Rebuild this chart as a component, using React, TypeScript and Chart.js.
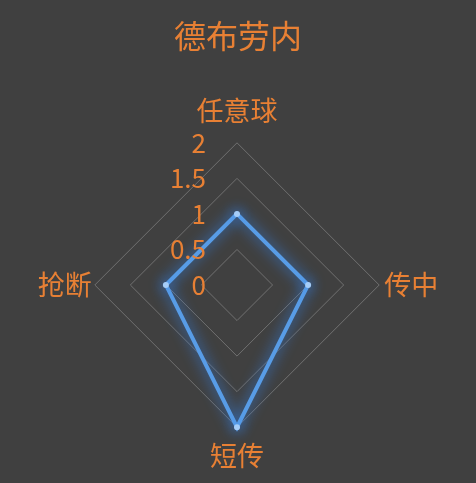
import { useEffect, useRef } from "react"
import { Chart, registerables } from "chart.js"

Chart.register(...registerables)

// dados do radar
const labels = ["任意球", "传中", "短传", "抢断"]
const values = [1, 1, 2, 1]
const tickValues = [0, 0.5, 1, 1.5, 2]
const labelPadding = [16, 5, 12, 3]

const ORANGE = "rgb(232, 128, 52)"
const FONT = "'Noto Sans CJK SC', 'Noto Sans', sans-serif"

// desenha os ticks à esquerda do eixo vertical
const tickPlugin = {
  id: "leftTicks",
  afterDraw(chart: any) {
    const scale = chart.scales.r
    const ctx = chart.ctx
    ctx.save()
    ctx.fillStyle = ORANGE
    ctx.font = `26px ${FONT}`
    ctx.textAlign = "right"
    ctx.textBaseline = "middle"
    tickValues.forEach((v) => {
      const d = scale.getDistanceFromCenterForValue(v)
      ctx.fillText(String(v), scale.xCenter - 31, scale.yCenter - d)
    })
    ctx.restore()
  },
}

// brilho da linha
const glowPlugin = {
  id: "glow",
  beforeDatasetsDraw(chart: any) {
    const ctx = chart.ctx
    ctx.save()
    ctx.shadowColor = "rgba(50, 135, 245, 1)"
    ctx.shadowBlur = 14
  },
  afterDatasetsDraw(chart: any) {
    chart.ctx.restore()
  },
}

export default function App() {
  const chartRef = useRef<HTMLCanvasElement>(null)
  const chartInstance = useRef<Chart | null>(null)

  useEffect(() => {
    document.body.style.margin = "0"
    document.body.style.background = "#404040"
    if (!chartRef.current) return
    if (chartInstance.current) chartInstance.current.destroy()
    const ctx = chartRef.current.getContext("2d")
    if (!ctx) return

    chartInstance.current = new Chart(ctx, {
      type: "radar",
      data: {
        labels,
        datasets: [
          {
            data: values,
            borderColor: "rgb(88, 156, 230)",
            borderWidth: 4,
            backgroundColor: "transparent",
            fill: false,
            pointRadius: 3,
            pointBorderWidth: 0,
            pointBackgroundColor: "rgb(165, 205, 248)",
          },
        ],
      },
      options: {
        responsive: false,
        animation: false,
        layout: { padding: { left: 0, right: 0, top: 0, bottom: 9 } },
        plugins: {
          legend: { display: false },
          tooltip: { enabled: false },
          title: {
            display: true,
            text: "德布劳内",
            color: ORANGE,
            font: { size: 32, family: FONT, weight: "normal" },
            padding: { top: 17, bottom: 37 },
          },
        },
        scales: {
          r: {
            min: 0,
            max: 2,
            ticks: { stepSize: 0.5, display: false },
            angleLines: { display: false },
            grid: { color: "rgb(112, 112, 112)", lineWidth: 1 },
            pointLabels: {
              color: ORANGE,
              font: { size: 27, family: FONT },
              padding: (c: any) => labelPadding[c.index],
            },
          },
        },
      },
      plugins: [glowPlugin, tickPlugin],
    })

    return () => {
      if (chartInstance.current) chartInstance.current.destroy()
    }
  }, [])

  return (
    <div style={{ width: 476, height: 483, background: "#404040" }}>
      <canvas ref={chartRef} width={476} height={483} />
    </div>
  )
}
